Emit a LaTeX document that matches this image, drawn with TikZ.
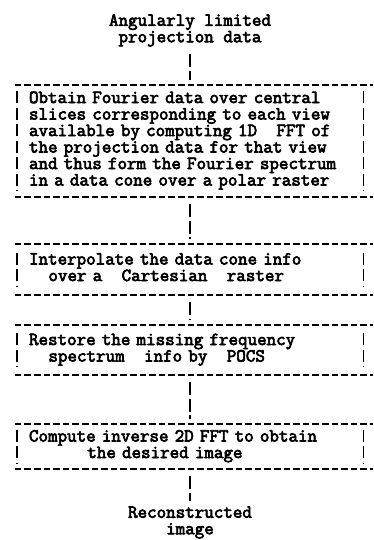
\documentclass[tikz,border=0pt]{standalone}
\usepackage{fontspec}
\newfontfamily\typer{Latin Modern Mono}[FakeBold=3.5]
\newcommand{\blank}[1]{\hspace*{#1\dimexpr0.525em\relax}}

\begin{document}
\begin{tikzpicture}[x=1pt,y=-1pt,
    every node/.style={inner sep=0pt,font=\typer\fontsize{18.5}{16.5}\selectfont},
    flowbox/.style={text width=332pt,align=left,minimum height=#1},
    rule/.style={line width=1.6pt,dash pattern=on 6.5pt off 3.1pt},
    bar/.style={line width=1.4pt,dash pattern=on 12pt off 4.5pt},
    link/.style={line width=1.4pt,dash pattern=on 13pt off 3.5pt,shorten <=7pt,shorten >=5pt}]
\useasboundingbox (0,0) rectangle (374,540);

\node[align=center] (source) at (190,30.7) {\strut Angularly limited\\projection data\strut};

\node[flowbox=112pt] (fourier) at (195,141) {\strut Obtain Fourier data over central\\
  slices corresponding to each view\\
  available by computing 1D\blank{2}FFT of\\
  the projection data for that view\\
  and thus form the Fourier spectrum\\
  in a data cone over a polar raster\strut};
\node[flowbox=51pt] (interp) at (195,269.5) {\strut Interpolate the data cone info\\
  \blank{2}over a\blank{2}Cartesian\blank{2}raster\strut};
\node[flowbox=50pt] (restore) at (195,350) {\strut Restore the missing frequency\\
  \blank{2}spectrum\blank{2}info by\blank{2}POCS\strut};
\node[flowbox=45pt] (inverse) at (195,446.5) {\strut Compute inverse 2D FFT to obtain\\
  \blank{6}the desired image\strut};

\node[align=center] (result) at (190,522.7) {\strut Reconstructed\\image\strut};

% typed frames: dashes on top and bottom, bars at the sides
\foreach \b/\p in {fourier/6.5,interp/9,restore/8.5,inverse/6}{
  \draw[rule] ([xshift=-14pt]\b.north west) -- ([xshift=12pt]\b.north east);
  \draw[rule] ([xshift=-14pt]\b.south west) -- ([xshift=12pt]\b.south east);
  \draw[bar] ([shift={(-12,\p)}]\b.north west) -- ([shift={(-12,-\p)}]\b.south west);
  \draw[bar] ([shift={(2,\p)}]\b.north east) -- ([shift={(2,-\p)}]\b.south east);
}

\draw[link] (source) -- (source |- fourier.north);
\draw[link] (fourier.south -| source) -- (interp.north -| source);
\draw[link] (interp.south -| source) -- (restore.north -| source);
\draw[link] (restore.south -| source) -- (inverse.north -| source);
\draw[link] (inverse.south -| result) -- (result);
\end{tikzpicture}
\end{document}
